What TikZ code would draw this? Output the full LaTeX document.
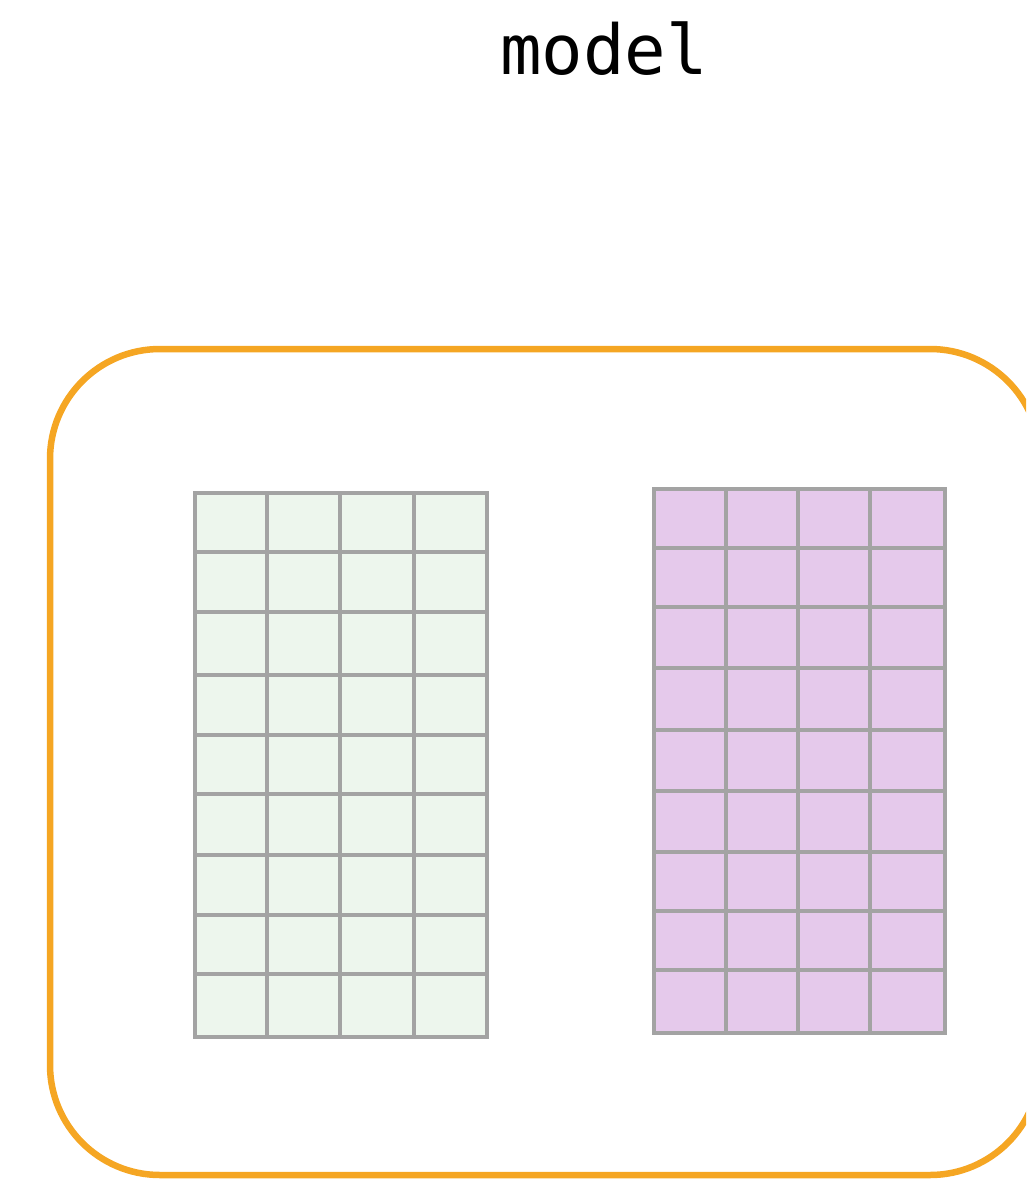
\documentclass[tikz,border=0pt]{standalone}
\usepackage{fontspec}
\newfontfamily\monofont{DejaVu Sans Mono}
\definecolor{boxorange}{HTML}{F5A623}
\definecolor{gridgray}{HTML}{A3A3A3}
\definecolor{cellgreen}{HTML}{EDF6ED}
\definecolor{cellpurple}{HTML}{E5C9EB}
\begin{document}
\begin{tikzpicture}[x=1pt,y=-1pt,
  frame/.style={draw=boxorange,line width=6.5pt,rounded corners=110pt},
  gridline/.style={draw=gridgray,line width=3.3pt,line cap=rect}]
\useasboundingbox (0,0) rectangle (1026,1180);
\clip (0,0) rectangle (1026,1180);
\node[anchor=base,font=\monofont\fontsize{69}{80}\selectfont,inner sep=0pt] (title) at (604,75) {model};
\path[frame] (50,349) rectangle (1040,1175);
% green grid
\fill[cellgreen] (195,493) rectangle (487,1037);
\foreach \x in {195,267,340,414,487} \draw[gridline] (\x,493) -- (\x,1037);
\foreach \y in {493,552,612,675,735,794,855,915,974,1037} \draw[gridline] (195,\y) -- (487,\y);
% purple grid
\fill[cellpurple] (654,489) rectangle (945,1033);
\foreach \x in {654,726,798,870,945} \draw[gridline] (\x,489) -- (\x,1033);
\foreach \y in {489,548,607,668,730,791,852,911,970,1033} \draw[gridline] (654,\y) -- (945,\y);
\end{tikzpicture}
\end{document}
